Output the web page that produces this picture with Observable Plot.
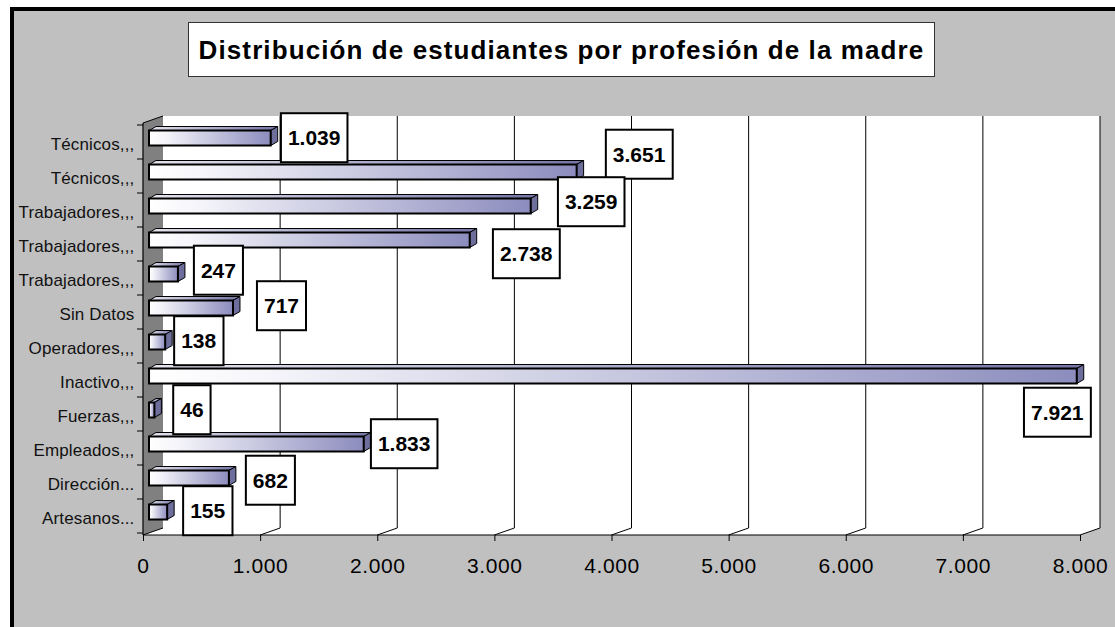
<!DOCTYPE html>
<html><head><meta charset="utf-8">
<script src="https://cdn.jsdelivr.net/npm/d3@7"></script>
<script src="https://cdn.jsdelivr.net/npm/@observablehq/plot@0.6"></script>
<style>
body{margin:0;background:#fff;}
#wrap{position:relative;width:1115px;height:627px;overflow:hidden;background:#fff;font-family:"Liberation Sans",Arial,sans-serif;}
#bg{position:absolute;left:10px;top:7px;width:1105px;height:620px;background:#c0c0c0;border-top:4px solid #000;border-left:4px solid #000;box-sizing:border-box;}
#title{position:absolute;left:188px;top:22px;width:747px;height:55px;box-sizing:border-box;border:1.5px solid #333;background:#fff;display:flex;align-items:center;justify-content:center;font-weight:bold;font-size:26px;letter-spacing:1.1px;white-space:nowrap;color:#000;padding-top:2px;}
#chart{position:absolute;left:0;top:0;}
#chart g[aria-label="y-axis tick label"]{letter-spacing:0.15px;}
#chart g[aria-label="x-axis tick label"]{letter-spacing:0.6px;}
</style></head>
<body>
<div id="wrap">
  <div id="bg"></div>
  <div id="chart"></div>
  <div id="title">Distribución de estudiantes por profesión de la madre</div>
</div>
<script>
// ---- data (top to bottom as in the original) ----
const categories = ["Técnicos,,,","Técnicos,,,","Trabajadores,,,","Trabajadores,,,","Trabajadores,,,","Sin Datos","Operadores,,,","Inactivo,,,","Fuerzas,,,","Empleados,,,","Dirección...","Artesanos..."];
const values = [1039, 3651, 3259, 2738, 247, 717, 138, 7921, 46, 1833, 682, 155];
const xTicks = [0, 1000, 2000, 3000, 4000, 5000, 6000, 7000, 8000];
// pixel nudges of each value label box, as dragged in the original
const labelOffsets = [[43,0],[62,-17.5],[60,-4],[56,14],[40,-3.5],[48,-2],[33,-1],[-20,36.5],[37,0],[40,0],[41,2.5],[40,-1]];

const rows = categories.map((name, i) => ({i, name, value: values[i]}));
const idx = d3.range(categories.length);
const fmt = d3.formatLocale({decimal: ",", thousands: ".", grouping: [3], currency: ["", ""]}).format(",d");

const DX = 20, DY = -7;   // depth of walls
const BDX = 6, BDY = -4;  // bar position within depth
const TDX = 7, TDY = -4;  // bar depth
const INSET = 9.5;

function walls(index, scales, vals, dim) {
  const x = scales.x, y = scales.y;
  const L = dim.marginLeft, R = dim.width - dim.marginRight;
  const T = dim.marginTop, B = dim.height - dim.marginBottom;
  const g = d3.create("svg:g");
  const defs = g.append("defs");
  const grad = (id, stops) => {
    const lg = defs.append("linearGradient").attr("id", id).attr("x1", 0).attr("x2", 1).attr("y1", 0).attr("y2", 0);
    for (const [o, c] of stops) lg.append("stop").attr("offset", o).attr("stop-color", c);
  };
  grad("barFront", [[0, "#ffffff"], [0.12, "#f6f6fb"], [1, "#8c8cbe"]]);
  grad("barTop", [[0, "#e4e4ee"], [1, "#7474a6"]]);
  const line = (x1, y1, x2, y2, w = 1) => g.append("line").attr("x1", x1).attr("y1", y1).attr("x2", x2).attr("y2", y2).attr("stroke", "#000").attr("stroke-width", w);
  // back wall and floor
  g.append("rect").attr("x", L + DX).attr("y", T + DY).attr("width", R - L).attr("height", B - T).attr("fill", "#fff");
  g.append("polygon").attr("points", [[L, B], [L + DX, B + DY], [R + DX, B + DY], [R, B]].join(" ")).attr("fill", "#fff");
  // side wall
  g.append("polygon").attr("points", [[L, T], [L + DX, T + DY], [L + DX, B + DY], [L, B]].join(" ")).attr("fill", "#808080");
  // gridlines on back wall + floor
  for (const v of xTicks) {
    const px = x(v);
    if (v > 0) line(px + DX, T + DY, px + DX, B + DY);
    line(px, B, px + DX, B + DY);
  }
  line(L, T, L + DX, T + DY);
  // axes lines
  line(L, T, L, B, 1.2);
  line(L, B, R, B, 1.2);
  const bw = y.bandwidth ? y.bandwidth() : (B - T) / idx.length;
  const bounds = idx.map(i => y(i)).concat([y(idx[idx.length - 1]) + bw]);
  for (const yy of bounds) line(L - 6, yy, L, yy);
  return g.node();
}

// top and end faces of the 3D bars, placed with the plot's scales
function barFaces(index, scales, vals, dim) {
  const x = scales.x, y = scales.y;
  const bw = y.bandwidth ? y.bandwidth() : (dim.height - dim.marginTop - dim.marginBottom) / idx.length;
  const g = d3.create("svg:g");
  for (const r of rows) {
    const x0 = x(0) + BDX, x1 = x(r.value) + BDX;
    const y0 = y(r.i) + INSET + BDY, y1 = y(r.i) + bw - INSET + BDY;
    g.append("polygon")
      .attr("points", [[x0, y0], [x0 + TDX, y0 + TDY], [x1 + TDX, y0 + TDY], [x1, y0]].join(" "))
      .attr("fill", "url(#barTop)").attr("stroke", "#000").attr("stroke-width", 1).attr("stroke-linejoin", "round");
    g.append("polygon")
      .attr("points", [[x1, y0], [x1 + TDX, y0 + TDY], [x1 + TDX, y1 + TDY], [x1, y1]].join(" "))
      .attr("fill", "#6e6e9c").attr("stroke", "#000").attr("stroke-width", 1).attr("stroke-linejoin", "round");
  }
  return g.node();
}

const chart = Plot.plot({
  width: 1115,
  height: 627,
  marginLeft: 143,
  marginRight: 35,
  marginTop: 123,
  marginBottom: 92,
  style: {background: "transparent", fontFamily: "'Liberation Sans', Arial, sans-serif", color: "#000", overflow: "visible"},
  x: {domain: [0, 8000]},
  y: {type: "band", domain: idx, padding: 0},
  marks: [
    walls,
    barFaces,
    Plot.barX(rows, {x: "value", y: "i", dx: BDX, dy: BDY, insetTop: INSET, insetBottom: INSET, fill: "url(#barFront)", stroke: "#000", strokeWidth: 2}),
    ...labelOffsets.map((o, k) => Plot.text([rows[k]], {
      x: "value", y: "i", text: d => fmt(d.value), dx: BDX + o[0], dy: BDY + o[1],
      fontSize: 21, fontWeight: "bold", fill: "#000"
    })),
    Plot.axisX({ticks: xTicks, tickFormat: fmt, tickSize: 6, tickPadding: 17, fontSize: 21, label: null, stroke: "#000", fill: "#000"}),
    Plot.axisY({tickSize: 0, tickPadding: 9, dy: 2, tickFormat: i => categories[i], fontSize: 17, label: null, fill: "#111"})
  ]
});
document.getElementById("chart").appendChild(chart);

// white boxes behind the value labels
d3.select(chart).selectAll('g[aria-label="text"] text').each(function () {
  const b = this.getBBox();
  const r = document.createElementNS("http://www.w3.org/2000/svg", "rect");
  const cy = b.y + b.height / 2;
  r.setAttribute("x", b.x - 7);
  r.setAttribute("y", cy - 24.5);
  r.setAttribute("width", b.width + 14);
  r.setAttribute("height", 49);
  r.setAttribute("fill", "#fff");
  r.setAttribute("stroke", "#000");
  r.setAttribute("stroke-width", 2);
  const t = this.getAttribute("transform");
  if (t) r.setAttribute("transform", t);
  this.parentNode.insertBefore(r, this);
});
</script>
</body></html>
